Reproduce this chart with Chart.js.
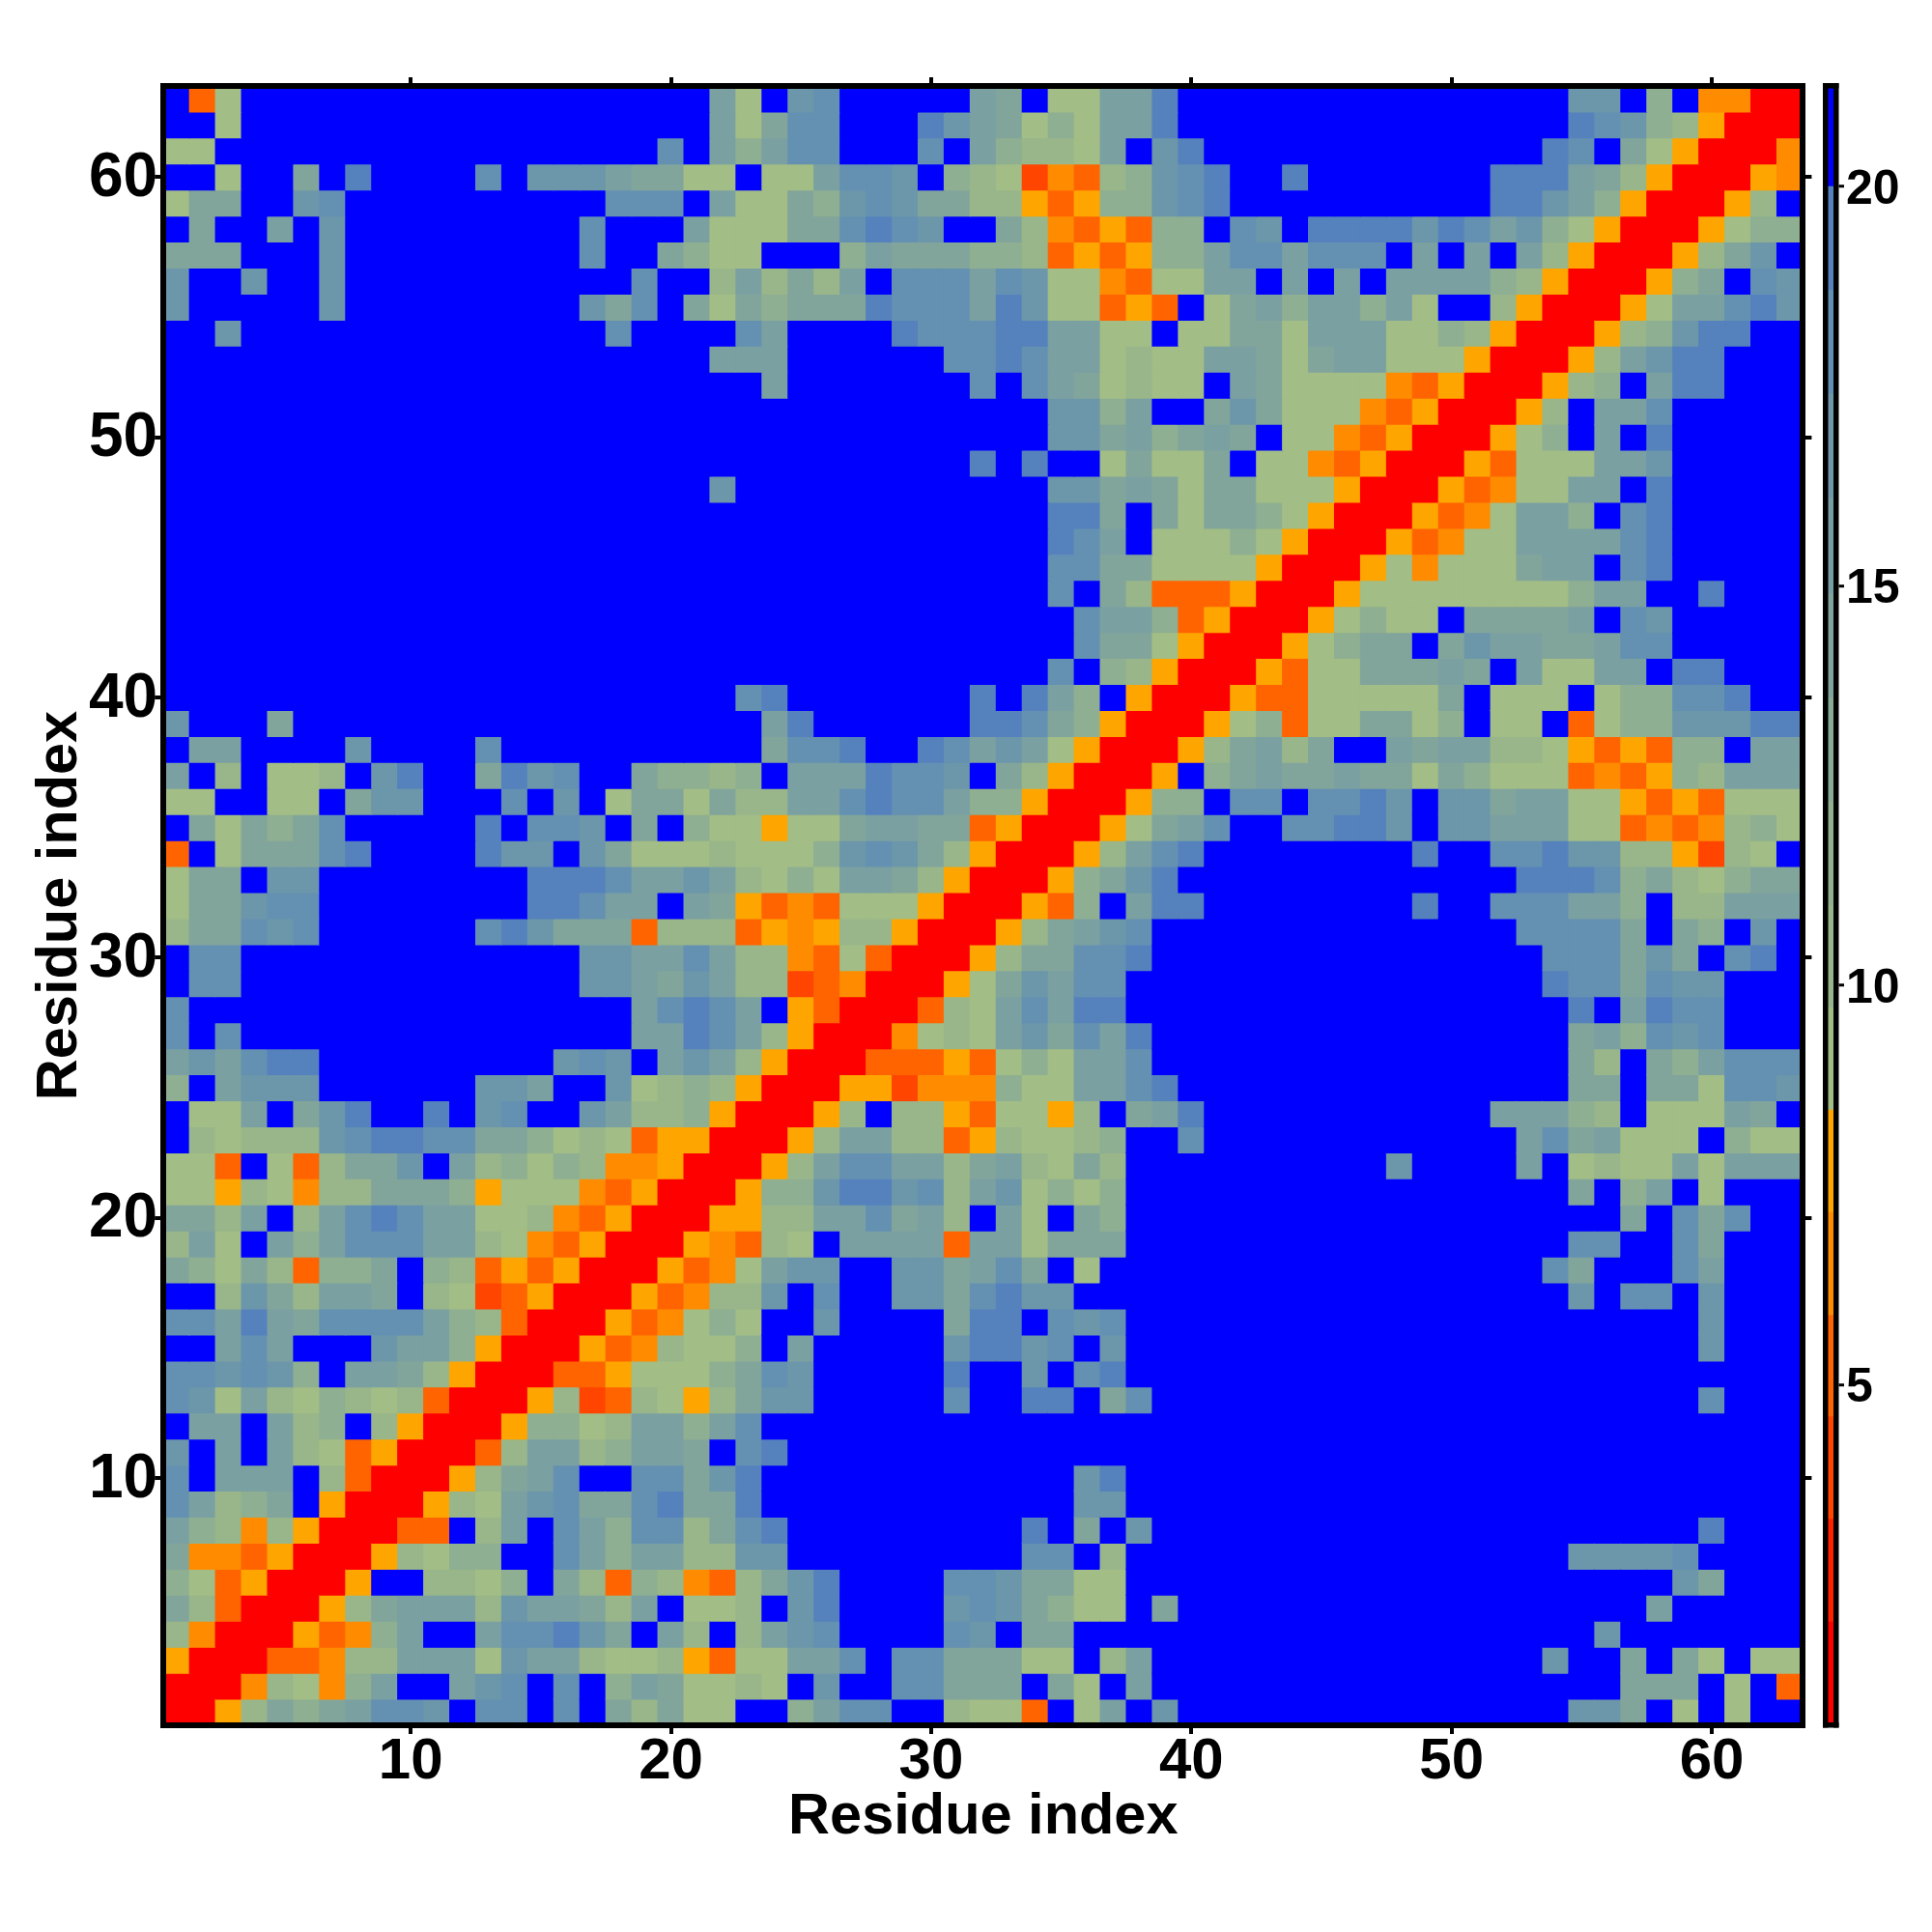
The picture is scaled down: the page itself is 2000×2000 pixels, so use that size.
<!DOCTYPE html>
<html>
<head>
<meta charset="utf-8">
<title>Residue distance map</title>
<script src="https://cdn.jsdelivr.net/npm/chart.js@4"></script>
<style>
  html, body { margin: 0; padding: 0; background: #ffffff; }
  canvas { position: absolute; left: 0; top: 0; }
</style>
</head>
<body>
<canvas id="mapChart" width="2000" height="2000"></canvas>
<canvas id="barChart" width="2000" height="2000"></canvas>
<script>
// values above the colour scale (drawn pure blue)
const B = 21;

// residue distances, only col <= row is stored, the map is symmetric
const row63 = [B,5,9,B,B,B,B,B,B,B,B,B,B,B,B,B,B,B,B,B,B,
  15,9,B,17,18,B,B,B,B,B,15,14,B,9,9,15,15,19,B,B,B,
  B,B,B,B,B,B,B,B,B,B,B,B,17,17,B,12,B,6.5,6.5,1,1];
const row62 = [B,B,9,B,B,B,B,B,B,B,B,B,B,B,B,B,B,B,B,B,B,
  15,9,14,18,18,B,B,B,19,17,15,14,9,12,9,15,15,19,B,B,B,
  B,B,B,B,B,B,B,B,B,B,B,B,19,18,17,12,10,8,1,1];
const row61 = [9,9,B,B,B,B,B,B,B,B,B,B,B,B,B,B,B,B,B,18,B,
  15,12,15,18,18,B,B,B,18,B,15,12,10,10,9,15,B,17,19,B,B,
  B,B,B,B,B,B,B,B,B,B,B,19,18,B,14,9,8,1,1];
const row60 = [B,B,9,B,B,14,B,19,B,B,B,B,18,B,17,17,17,15,14,14,9,
  9,B,9,9,15,18,18,17,B,12,10,9,4,6.5,5,10,12,17,18,19,B,
  B,19,B,B,B,B,B,B,B,19,19,19,15,14,10,8,1,1];
const row59 = [9,14,14,B,B,17,18,B,B,B,B,B,B,B,B,B,B,18,18,18,B,
  15,9,9,14,12,17,18,17,14,14,10,10,8,5,8,12,12,17,18,19,B,
  B,B,B,B,B,B,B,B,B,19,19,17,15,12,8,1,1];
const row58 = [B,14,B,B,15,B,17,B,B,B,B,B,B,B,B,B,18,B,B,B,15,
  9,9,9,14,14,18,19,18,17,B,B,14,10,6.5,5,8,5,12,12,B,18,
  17,B,19,19,19,19,17,19,18,15,17,12,9,8,1,1];
const row57 = [14,14,14,B,B,B,17,B,B,B,B,B,B,B,B,B,18,B,B,14,12,
  9,9,B,B,B,12,15,14,14,14,12,12,10,5,8,5,8,12,12,15,18,
  18,15,18,18,18,B,15,B,15,B,15,10,8,1,1];
const row56 = [17,B,B,17,B,B,17,B,B,B,B,B,B,B,B,B,B,B,18,B,B,
  10,15,10,14,10,15,B,18,18,18,15,18,17,9,9,6.5,5,9,9,15,15,
  B,15,B,15,B,15,15,15,15,12,10,8,1,1];
const row55 = [17,B,B,B,B,B,17,B,B,B,B,B,B,B,B,B,17,14,18,B,14,
  9,14,12,14,14,14,19,18,18,18,15,19,17,9,9,5,8,5,B,9,14,
  15,12,15,15,12,15,9,B,B,10,8,1,1];
const row54 = [B,B,17,B,B,B,B,B,B,B,B,B,B,B,B,B,B,18,B,B,B,
  B,18,15,B,B,B,B,19,18,18,18,19,19,15,15,9,9,B,9,9,14,
  14,9,15,15,15,9,9,12,10,8,1,1];
const row53 = [B,B,B,B,B,B,B,B,B,B,B,B,B,B,B,B,B,B,B,B,B,
  15,15,15,B,B,B,B,B,B,18,18,19,18,15,15,9,10,9,9,15,15,
  14,9,14,15,15,9,9,9,8,1,1];
const row52 = [B,B,B,B,B,B,B,B,B,B,B,B,B,B,B,B,B,B,B,B,B,
  B,B,15,B,B,B,B,B,B,B,18,B,18,15,14,9,10,9,9,B,15,
  14,9,9,9,9,6.5,5,8,1,1];
const row51 = [B,B,B,B,B,B,B,B,B,B,B,B,B,B,B,B,B,B,B,B,B,
  B,B,B,B,B,B,B,B,B,B,B,B,B,17,17,12,15,B,B,14,17,
  14,9,9,9,6.5,5,8,1,1];
const row50 = [B,B,B,B,B,B,B,B,B,B,B,B,B,B,B,B,B,B,B,B,B,
  B,B,B,B,B,B,B,B,B,B,B,B,B,17,17,14,15,12,14,15,14,
  B,9,9,6.5,5,8,1,1];
const row49 = [B,B,B,B,B,B,B,B,B,B,B,B,B,B,B,B,B,B,B,B,B,
  B,B,B,B,B,B,B,B,B,B,19,B,19,B,B,9,14,9,9,14,B,
  9,9,6.5,5,8,1,1];
const row48 = [B,B,B,B,B,B,B,B,B,B,B,B,B,B,B,B,B,B,B,B,B,
  17,B,B,B,B,B,B,B,B,B,B,B,B,17,17,14,15,14,9,14,14,
  9,9,9,8,1,1];
const row47 = [B,B,B,B,B,B,B,B,B,B,B,B,B,B,B,B,B,B,B,B,B,
  B,B,B,B,B,B,B,B,B,B,B,B,B,19,19,14,B,14,9,14,14,
  12,9,8,1,1];
const row46 = [B,B,B,B,B,B,B,B,B,B,B,B,B,B,B,B,B,B,B,B,B,
  B,B,B,B,B,B,B,B,B,B,B,B,B,19,18,15,B,9,9,9,12,
  9,8,1,1];
const row45 = [B,B,B,B,B,B,B,B,B,B,B,B,B,B,B,B,B,B,B,B,B,
  B,B,B,B,B,B,B,B,B,B,B,B,B,18,18,14,14,9,9,9,9,
  8,1,1];
const row44 = [B,B,B,B,B,B,B,B,B,B,B,B,B,B,B,B,B,B,B,B,B,
  B,B,B,B,B,B,B,B,B,B,B,B,B,18,B,14,10,5,5,5,8,
  1,1];
const row43 = [B,B,B,B,B,B,B,B,B,B,B,B,B,B,B,B,B,B,B,B,B,
  B,B,B,B,B,B,B,B,B,B,B,B,B,B,18,15,15,12,5,8,1,
  1];
const row42 = [B,B,B,B,B,B,B,B,B,B,B,B,B,B,B,B,B,B,B,B,B,
  B,B,B,B,B,B,B,B,B,B,B,B,B,B,18,14,14,9,8,1,1];
const row41 = [B,B,B,B,B,B,B,B,B,B,B,B,B,B,B,B,B,B,B,B,B,
  B,B,B,B,B,B,B,B,B,B,B,B,B,18,B,12,10,8,1,1];
const row40 = [B,B,B,B,B,B,B,B,B,B,B,B,B,B,B,B,B,B,B,B,B,
  B,18,19,B,B,B,B,B,B,B,19,B,19,15,12,B,8,1,1];
const row39 = [17,B,B,B,14,B,B,B,B,B,B,B,B,B,B,B,B,B,B,B,B,
  B,B,15,19,B,B,B,B,B,B,19,19,18,14,12,8,1,1];
const row38 = [B,15,15,B,B,B,B,17,B,B,B,B,18,B,B,B,B,B,B,B,B,
  B,B,14,18,18,19,B,B,19,18,15,17,15,9,8,1,1];
const row37 = [15,B,10,B,9,9,10,B,17,19,B,B,14,19,17,18,B,B,14,12,12,
  10,12,B,15,15,15,19,18,18,17,B,14,10,8,1,1];
const row36 = [9,9,B,B,9,9,B,14,17,17,B,B,B,18,B,17,B,9,14,14,9,
  14,10,10,15,15,18,19,18,18,15,12,12,8,1,1];
const row35 = [B,14,9,14,12,14,18,B,B,B,B,B,19,B,18,18,17,B,14,B,12,
  9,9,8,9,9,14,15,15,14,14,5,8,1,1];
const row34 = [5,B,9,14,14,14,18,19,B,B,B,B,19,17,17,B,17,14,9,9,9,
  10,9,9,9,12,17,18,17,14,10,8,1,1];
const row33 = [9,14,14,B,17,17,B,B,B,B,B,B,B,B,19,19,19,18,15,15,17,
  15,10,9,12,9,15,15,14,10,8,1,1];
const row32 = [9,14,14,17,18,18,B,B,B,B,B,B,B,B,19,19,18,15,15,B,15,
  14,8,5,6.5,5,9,9,9,8,1,1];
const row31 = [10,14,14,18,17,18,B,B,B,B,B,B,18,19,17,14,14,14,5,10,10,
  10,5,8,6.5,8,10,10,8,1,1];
const row30 = [B,18,18,B,B,B,B,B,B,B,B,B,B,B,B,B,17,17,15,15,18,
  15,10,10,6.5,5,9,5,1,1];
const row29 = [B,18,18,B,B,B,B,B,B,B,B,B,B,B,B,B,17,17,15,14,17,
  15,10,10,4,5,6.5,1,1];
const row28 = [18,B,B,B,B,B,B,B,B,B,B,B,B,B,B,B,B,B,15,18,19,
  18,15,B,8,5,1,1];
const row27 = [18,B,18,B,B,B,B,B,B,B,B,B,B,B,B,B,B,B,15,15,19,
  18,15,10,8,1,1];
const row26 = [15,17,15,18,19,19,B,B,B,B,B,B,B,B,B,17,18,17,B,15,17,
  15,10,8,1,1];
const row25 = [12,B,15,17,17,17,B,B,B,B,B,B,17,17,15,B,B,17,9,10,12,
  10,8,1,1];
const row24 = [B,9,9,15,B,14,17,19,B,B,19,B,17,18,B,B,17,15,10,10,12,
  8,1,1];
const row23 = [B,10,9,10,10,10,17,18,19,19,18,18,14,14,12,9,10,9,5,8,8,
  1,1];
const row22 = [9,9,5,B,9,5,10,14,14,17,B,15,10,12,9,12,10,6.5,6.5,8,1,
  1];
const row21 = [9,9,8,10,9,6.5,10,10,14,14,14,12,8,9,9,9,6.5,5,8,1,1];
const row20 = [14,14,10,15,B,10,15,18,19,18,15,15,9,9,10,6.5,5,8,1,1];
const row19 = [10,15,9,B,15,12,15,18,18,18,15,15,10,9,6.5,5,8,1,1];
const row18 = [14,12,9,14,10,5,12,12,14,B,12,10,5,8,5,8,1,1];
const row17 = [B,B,10,17,14,10,15,15,14,B,10,9,4,5,8,1,1];
const row16 = [18,18,15,19,15,14,18,18,18,18,15,12,10,5,1,1];
const row15 = [B,B,15,18,15,B,B,B,17,15,15,12,8,1,1];
const row14 = [18,18,17,18,17,12,B,15,15,14,10,8,1,1];
const row13 = [18,17,9,15,10,9,12,10,9,10,5,1,1];
const row12 = [B,15,15,B,15,10,12,B,10,8,1,1];
const row11 = [17,B,15,B,15,10,9,5,8,1,1];
const row10 = [18,B,15,15,15,B,10,5,1,1];
const row9 = [18,15,10,12,14,B,8,1,1];
const row8 = [15,12,10,6.5,10,8,1,1];
const row7 = [14,6.5,6.5,5,8,1,1];
const row6 = [12,9,5,8,1,1];
const row5 = [14,10,5,1,1];
const row4 = [10,6.5,1,1];
const row3 = [8,1,1];
const row2 = [1,1];
const row1 = [1];

const rows = [row1,row2,row3,row4,row5,row6,row7,row8,row9,row10,row11,row12,row13,row14,row15,row16,
  row17,row18,row19,row20,row21,row22,row23,row24,row25,row26,row27,row28,row29,row30,row31,row32,
  row33,row34,row35,row36,row37,row38,row39,row40,row41,row42,row43,row44,row45,row46,row47,row48,
  row49,row50,row51,row52,row53,row54,row55,row56,row57,row58,row59,row60,row61,row62,row63];

const axisTicks = [10, 20, 30, 40, 50, 60];
const barTicks = [5, 10, 15, 20];
const axisTitle = 'Residue index';

// colour bar steps
const barEdges = [0.74, 2.03, 3.32, 4.6, 5.87, 7.16, 8.44, 9.72, 11, 12.3, 13.6, 14.9, 16.1, 17.4, 18.7, 20, 21.26];

const warmLimits = [2.03, 3.32, 4.6, 5.87, 7.16, 8.44];
const warmColors = ['#ff0000', '#ff2000', '#ff4500', '#ff6400', '#ff8c00', '#ffa500'];
const coolValues = [9, 10, 12, 14, 15, 17, 18, 19];
const coolColors = [[162,189,133],[152,182,138],[142,175,145],[130,165,155],[122,160,162],[108,150,170],[100,145,178],[85,130,188]];

function colorFor(v) {
  if (v >= 20) return '#0000ff';
  for (let i = 0; i < warmLimits.length; i++) {
    if (v < warmLimits[i]) return warmColors[i];
  }
  if (v <= coolValues[0]) return 'rgb(' + coolColors[0].join(',') + ')';
  for (let i = 1; i < coolValues.length; i++) {
    if (v <= coolValues[i]) {
      const t = (v - coolValues[i - 1]) / (coolValues[i] - coolValues[i - 1]);
      const c = coolColors[i - 1].map((a, k) => Math.round(a + (coolColors[i][k] - a) * t));
      return 'rgb(' + c.join(',') + ')';
    }
  }
  return 'rgb(' + coolColors[coolColors.length - 1].join(',') + ')';
}

// mirror the stored half into a full 63 x 63 table of cells
const cells = [];
rows.forEach((row, r) => {
  row.forEach((v, c) => {
    cells.push({ x: c + 1, y: [r + 0.5, r + 1.5], v: v });
    if (c !== r) cells.push({ x: r + 1, y: [c + 0.5, c + 1.5], v: v });
  });
});

const black = '#000000';
const fontName = '"Liberation Sans", Arial, sans-serif';

function fixedHeight(h) { return scale => { scale.height = h; }; }
function fixedWidth(w) { return scale => { scale.width = w; }; }
function setTicks(values) {
  return scale => { scale.ticks = values.map(v => ({ value: v })); };
}

function frameAxis(position, ticks, fit, showLabels, labelOpts, extra) {
  return Object.assign({
    type: 'linear',
    position: position,
    offset: false,
    min: 0.5,
    max: 63.5,
    afterBuildTicks: setTicks(ticks),
    afterFit: fit,
    border: { display: true, color: black, width: 6, z: 2 },
    grid: { offset: false, drawOnChartArea: false, drawTicks: true, tickLength: 9, tickWidth: 4, tickColor: black, lineWidth: 6, z: 2 },
    ticks: Object.assign({
      display: showLabels,
      autoSkip: false,
      maxRotation: 0,
      minRotation: 0,
      color: black,
      font: { family: fontName, size: 64, weight: 'bold' },
      callback: v => String(v)
    }, labelOpts)
  }, extra || {});
}

new Chart(document.getElementById('mapChart'), {
  type: 'bar',
  data: {
    datasets: [{
      data: cells,
      backgroundColor: cells.map(c => colorFor(c.v)),
      borderWidth: 0,
      inflateAmount: 0.5,
      barPercentage: 1,
      categoryPercentage: 1
    }]
  },
  options: {
    responsive: false,
    animation: false,
    events: [],
    layout: { padding: 0 },
    plugins: { legend: { display: false }, tooltip: { enabled: false } },
    scales: {
      x: frameAxis('bottom', axisTicks, fixedHeight(214), true, {
        padding: -7,
        font: { family: fontName, size: 60, weight: 'bold' }
      }, {
        title: { display: true, text: axisTitle, color: black, padding: { bottom: 83 },
          font: { family: fontName, size: 59.5, weight: 'bold' } }
      }),
      y: frameAxis('left', axisTicks, fixedWidth(169.2), true, { padding: -3, labelOffset: 2 }, {
        title: { display: true, text: axisTitle, color: black, padding: { top: 27 },
          font: { family: fontName, size: 59.5, weight: 'bold' } }
      }),
      x2: frameAxis('top', axisTicks, fixedHeight(89), false, {}),
      y2: frameAxis('right', axisTicks, fixedWidth(133.6), false, {})
    }
  }
});

// colour bar, second chart laid over the first
const barSets = [];
for (let i = 0; i < barEdges.length - 1; i++) {
  barSets.push({
    data: [[barEdges[i], barEdges[i + 1]]],
    backgroundColor: colorFor((barEdges[i] + barEdges[i + 1]) / 2),
    borderWidth: 0,
    inflateAmount: 0.5,
    barPercentage: 1,
    categoryPercentage: 1,
    grouped: false
  });
}

function barFrame(position, fit, extra) {
  return Object.assign({
    position: position,
    afterFit: fit,
    border: { display: true, color: black, width: 5.5, z: 2 },
    grid: { drawOnChartArea: false, drawTicks: false, lineWidth: 5.5 },
    ticks: { display: false }
  }, extra);
}

new Chart(document.getElementById('barChart'), {
  type: 'bar',
  data: { labels: [''], datasets: barSets },
  options: {
    responsive: false,
    animation: false,
    events: [],
    layout: { padding: 0 },
    plugins: { legend: { display: false }, tooltip: { enabled: false } },
    scales: {
      x: barFrame('bottom', fixedHeight(214), { type: 'category' }),
      x2: barFrame('top', fixedHeight(89), { type: 'category', labels: [''] }),
      y2: barFrame('left', fixedWidth(1889.5), { type: 'linear', min: 0.74, max: 21.26 }),
      y: {
        type: 'linear',
        position: 'right',
        min: 0.74,
        max: 21.26,
        afterBuildTicks: setTicks(barTicks),
        afterFit: fixedWidth(99),
        border: { display: true, color: black, width: 5.5, z: 2 },
        grid: { drawOnChartArea: false, drawTicks: true, tickLength: 8, tickWidth: 3, tickColor: black, lineWidth: 5.5, z: 2 },
        ticks: {
          autoSkip: false,
          maxRotation: 0,
          minRotation: 0,
          padding: 2,
          labelOffset: 4,
          color: black,
          font: { family: fontName, size: 50, weight: 'bold' },
          callback: v => String(v)
        }
      }
    }
  }
});
</script>
</body>
</html>
